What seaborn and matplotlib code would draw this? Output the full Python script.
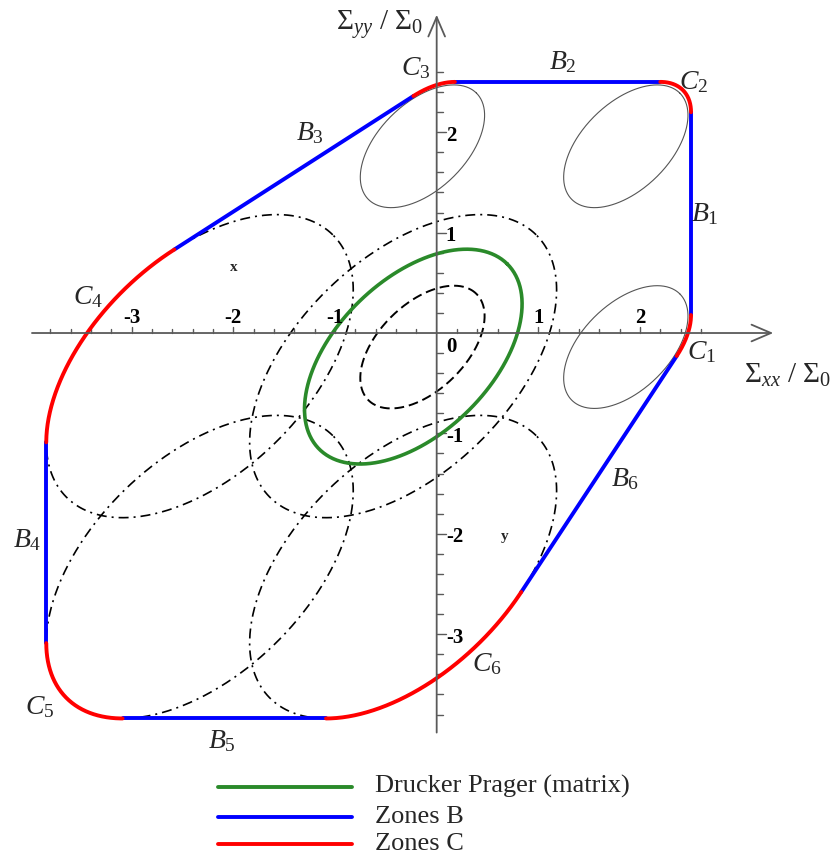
import numpy as np
import matplotlib
matplotlib.use("Agg")
import matplotlib.pyplot as plt
import seaborn as sns

sns.set_theme(style="white")
plt.rcParams['font.family'] = ['Liberation Serif', 'DejaVu Serif']
plt.rcParams['mathtext.fontset'] = 'custom'
plt.rcParams['mathtext.rm'] = 'Liberation Serif'
plt.rcParams['mathtext.it'] = 'Liberation Serif:italic'
plt.rcParams['mathtext.bf'] = 'Liberation Serif:bold'

# Elliptic criteria, semi-axes along the (1,1) and (-1,1) directions
small_axes = [0.75, 0.43]
large_axes = [1.85, 1.065]
dp_axes = [1.306, 0.764]
dp_center = [-0.23, -0.235]

# dashed ellipse at the origin and its translated copies (thin grey)
inner_center = [-0.14, -0.14]
grey_cx = [-0.14, 1.86, 1.86]
grey_cy = [1.86, 1.86, -0.14]

# dash-dot ellipses
shift_cx = [-0.33, -2.33, -0.33, -2.33]
shift_cy = [-0.33, -0.33, -2.33, -2.33]

# corner zones of the envelope: arcs of the ellipses (parameter range in degrees)
corner_names = ['C_1', 'C_2', 'C_3', 'C_4', 'C_5', 'C_6']
corner_shape = ['small', 'small', 'small', 'large', 'large', 'large']
corner_cx = [1.89, 1.89, -0.13, -2.33, -2.33, -0.33]
corner_cy = [-0.13, 1.89, 1.89, -0.33, -2.33, -2.33]
corner_t0 = [-69.5, -29.8, 29.8, 69.6, 150.1, 209.9]
corner_t1 = [-29.8, 29.8, 69.5, 150.1, 209.9, 290.4]

# zone labels
zone_labels = ['C_3', 'B_2', 'C_2', 'B_3', 'B_1', 'C_4', 'C_1', 'B_6', 'B_4', 'C_6', 'C_5', 'B_5']
zone_lx = [-0.21, 1.24, 2.53, -1.25, 2.64, -3.43, 2.61, 1.85, -4.03, 0.49, -3.90, -2.11]
zone_ly = [2.64, 2.70, 2.50, 1.99, 1.18, 0.36, -0.19, -1.46, -2.06, -3.30, -3.73, -4.07]

x_tick_labels = ['-3', '-2', '-1', '1', '2']
x_tick_values = [-3, -2, -1, 1, 2]
y_tick_labels = ['2', '1', '-1', '-2', '-3']
y_tick_values = [2, 1, -1, -2, -3]

AXES = {'small': small_axes, 'large': large_axes}


def ellipse(cx, cy, ab, t0=0.0, t1=360.0, n=400):
    a, b = ab
    t = np.radians(np.linspace(t0, t1, n))
    x = cx + (a * np.cos(t) - b * np.sin(t)) / np.sqrt(2)
    y = cy + (a * np.cos(t) + b * np.sin(t)) / np.sqrt(2)
    return x, y


fig = plt.figure(figsize=(8.35, 8.57), dpi=100)
ax = fig.add_axes([0.0115, 0.1077, 0.9377, 0.8903])
ax.set_xlim(-4.2, 3.5)
ax.set_ylim(-4.3, 3.3)
ax.axis('off')

axis_col = '#5a5a5a'
# axes with open arrow heads
arrow = dict(arrowstyle='->,head_length=0.7,head_width=0.3', color=axis_col, lw=1.3,
             shrinkA=0, shrinkB=0, mutation_scale=20)
ax.annotate('', xy=(3.31, 0), xytext=(-3.98, 0), arrowprops=arrow, annotation_clip=False)
ax.annotate('', xy=(0, 3.17), xytext=(0, -3.98), arrowprops=arrow, annotation_clip=False)

ticks = np.round(np.arange(-3.8, 2.61, 0.2), 1)
for t in ticks:
    major = abs(t - round(t)) < 1e-6
    if abs(t) < 1e-6:
        continue
    ax.plot([t, t], [0, 0.06 if major else 0.04], color=axis_col, lw=1.0)
    ax.plot([0, 0.09 if major else 0.065], [t, t], color=axis_col, lw=1.0)

tick_font = dict(fontsize=15, fontweight='bold', color='black')
for v, s in zip(x_tick_values, x_tick_labels):
    ax.text(v, 0.15, s, ha='center', va='center', **tick_font)
for v, s in zip(y_tick_values, y_tick_labels):
    ax.text(0.09, v - 0.035, s, ha='left', va='center', **tick_font)
ax.text(0.09, -0.14, '0', ha='left', va='center', **tick_font)

# grey ellipses
for cx, cy in zip(grey_cx, grey_cy):
    x, y = ellipse(cx, cy, small_axes)
    sns.lineplot(x=x, y=y, sort=False, estimator=None, ax=ax, color='#555555', lw=0.8)

# inner dashed ellipse
x, y = ellipse(inner_center[0], inner_center[1], small_axes)
sns.lineplot(x=x, y=y, sort=False, estimator=None, ax=ax, color='black', lw=1.4,
             linestyle=(0, (5, 2.5)))

# dash-dot ellipses
for cx, cy in zip(shift_cx, shift_cy):
    x, y = ellipse(cx, cy, large_axes)
    sns.lineplot(x=x, y=y, sort=False, estimator=None, ax=ax, color='black', lw=1.2,
                 linestyle=(0, (6, 3, 1.2, 3)))

# Drucker Prager ellipse of the matrix
x, y = ellipse(dp_center[0], dp_center[1], dp_axes)
sns.lineplot(x=x, y=y, sort=False, estimator=None, ax=ax, color='#2a8a2a', lw=2.6)

# envelope: corner arcs (zones C) joined by straight segments (zones B)
arcs = []
for sh, cx, cy, t0, t1 in zip(corner_shape, corner_cx, corner_cy, corner_t0, corner_t1):
    arcs.append(ellipse(cx, cy, AXES[sh], t0, t1, 200))
for i in range(6):
    xa, ya = arcs[i]
    xb, yb = arcs[(i + 1) % 6]
    sns.lineplot(x=[xa[-1], xb[0]], y=[ya[-1], yb[0]], sort=False, estimator=None, ax=ax,
                 color='#0000ff', lw=2.8)
for xa, ya in arcs:
    sns.lineplot(x=xa, y=ya, sort=False, estimator=None, ax=ax, color='#ff0000', lw=2.8)

for s, lx, ly in zip(zone_labels, zone_lx, zone_ly):
    ax.text(lx, ly, f'${s[0]}_{s[2]}$', ha='center', va='center', fontsize=20)

ax.text(-2.0, 0.65, 'x', ha='center', va='center', fontsize=11, fontweight='bold')
ax.text(0.67, -2.03, 'y', ha='center', va='center', fontsize=11, fontweight='bold')

ax.text(-0.56, 3.07, r'$\Sigma_{yy}\ /\ \Sigma_0$', ha='center', va='center', fontsize=21)
ax.text(3.45, -0.42, r'$\Sigma_{xx}\ /\ \Sigma_0$', ha='center', va='center', fontsize=21)

# legend
legend_items = ['Drucker Prager (matrix)', 'Zones B', 'Zones C']
legend_colors = ['#2a8a2a', '#0000ff', '#ff0000']
legend_y_px = [787, 817, 844]
for lab, col, ypx in zip(legend_items, legend_colors, legend_y_px):
    yf = (857 - ypx) / 857
    fig.add_artist(plt.Line2D([218 / 835, 352 / 835], [yf, yf], color=col, lw=2.8,
                              transform=fig.transFigure))
    fig.text(375 / 835, (857 - ypx - 6) / 857, lab, ha='left', va='baseline', fontsize=19)

fig.savefig('out.png', dpi=100)
